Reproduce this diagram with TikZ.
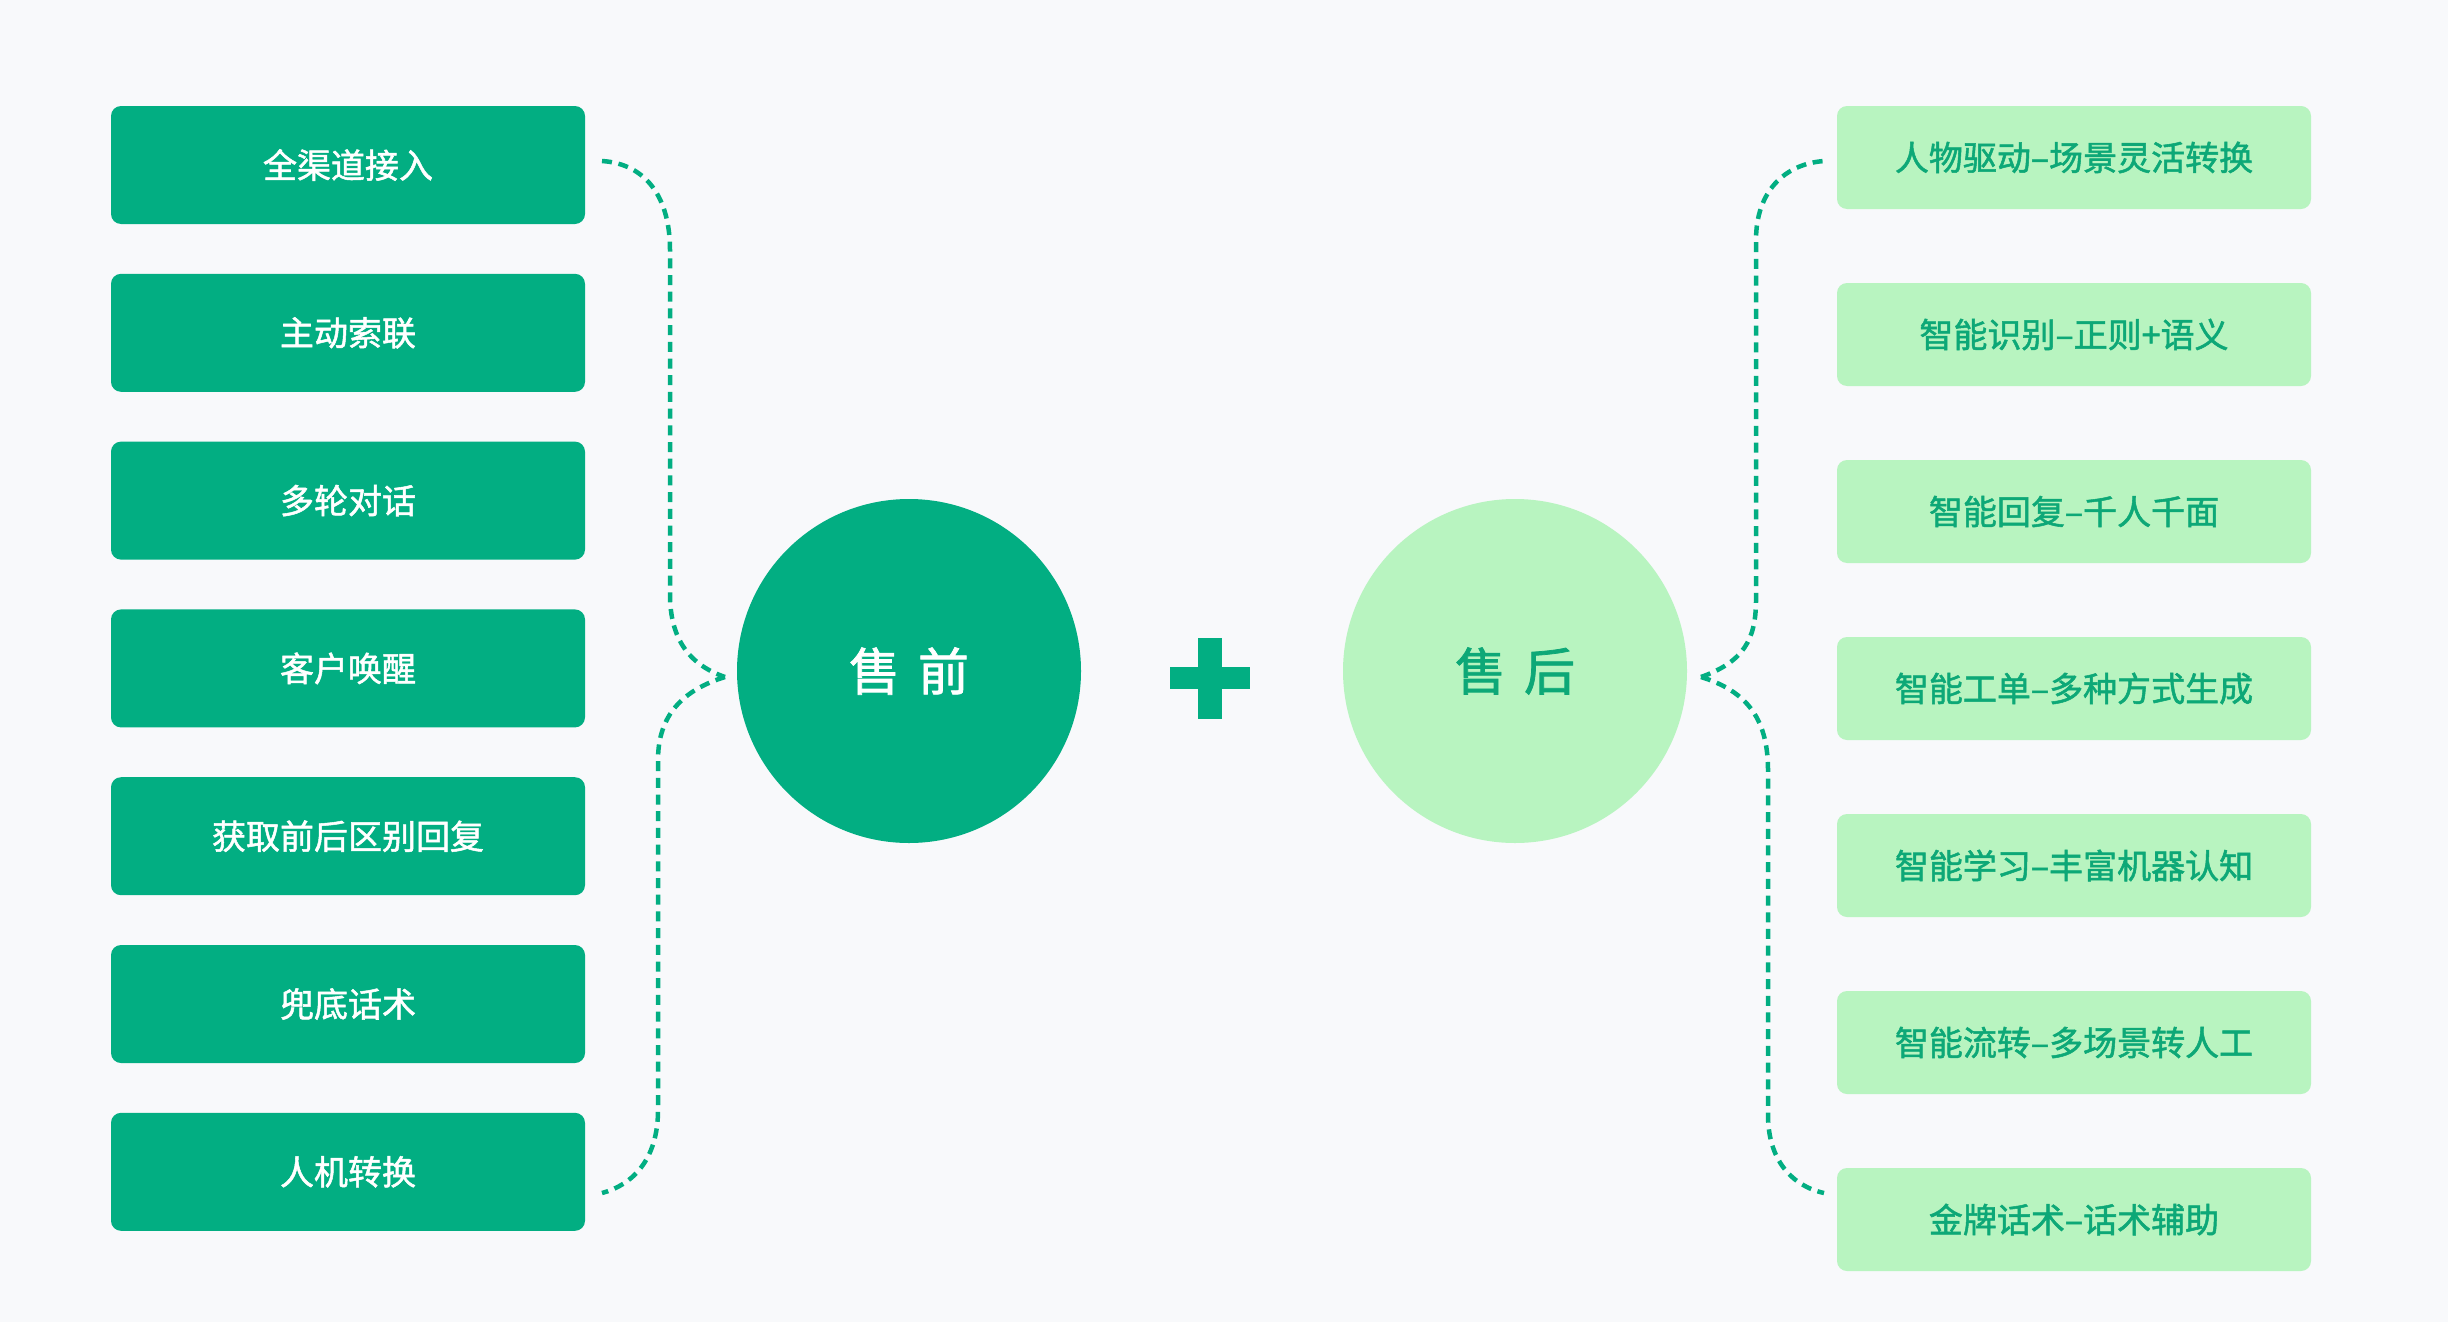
\documentclass[tikz,border=0pt]{standalone}
\usepackage{fontspec}
\setmainfont{Noto Sans CJK SC}
\newfontfamily\boldish{Noto Sans CJK SC}[FakeBold=1.5]
\definecolor{bg}{HTML}{F8F9FB}
\definecolor{dg}{HTML}{02AE82}
\definecolor{lg}{HTML}{B8F4C0}
\definecolor{tg}{HTML}{0DA877}
\begin{document}
\begin{tikzpicture}[x=1pt,y=-1pt,
  lbox/.style={fill=dg, rounded corners=10pt, minimum width=474pt, minimum height=118pt,
    text=white, font=\boldish\fontsize{34pt}{40pt}\selectfont, inner sep=0pt},
  rbox/.style={fill=lg, rounded corners=10pt, minimum width=474pt, minimum height=103pt,
    text=tg, font=\boldish\fontsize{34pt}{40pt}\selectfont, inner sep=0pt},
  hub/.style={circle, minimum size=344pt, inner sep=0pt, font=\boldish\fontsize{51pt}{60pt}\selectfont},
  conn/.style={draw=dg, line width=4.5pt, dash pattern=on 10pt off 6.7pt},
]
\fill[bg] (0,0) rectangle (2448,1322);
\useasboundingbox (0,0) rectangle (2448,1322);

% left boxes
\node[lbox] (l1) at (348,165.0) {全渠道接入};
\node[lbox] (l2) at (348,332.8) {主动索联};
\node[lbox] (l3) at (348,500.6) {多轮对话};
\node[lbox] (l4) at (348,668.4) {客户唤醒};
\node[lbox] (l5) at (348,836.2) {获取前后区别回复};
\node[lbox] (l6) at (348,1004.0) {兜底话术};
\node[lbox] (l7) at (348,1171.8) {人机转换};

% right boxes
\node[rbox] (r1) at (2074,157.5) {人物驱动–场景灵活转换};
\node[rbox] (r2) at (2074,334.5) {智能识别–正则+语义};
\node[rbox] (r3) at (2074,511.5) {智能回复–千人千面};
\node[rbox] (r4) at (2074,688.5) {智能工单–多种方式生成};
\node[rbox] (r5) at (2074,865.5) {智能学习–丰富机器认知};
\node[rbox] (r6) at (2074,1042.5) {智能流转–多场景转人工};
\node[rbox] (r7) at (2074,1219.5) {金牌话术–话术辅助};

% hubs
\node[hub, fill=dg, text=white] (pre) at (909,671) {售\hspace{18pt}前};
\node[hub, fill=lg, text=tg] (post) at (1515,671) {售\hspace{18pt}后};

% plus sign
\fill[dg] (1198,638) rectangle (1222,719);
\fill[dg] (1170,667) rectangle (1250,689);

% connector end points
\coordinate (la) at (602,161);
\coordinate (lb) at (602,1193);
\coordinate (lj) at (725,677);
\coordinate (ra) at (1824,161);
\coordinate (rb) at (1824,1193);
\coordinate (rj) at (1701,677);

% left brace
\draw[conn] (la) .. controls (648,164) and (670,200) .. (670,250) -- (670,594)
  .. controls (670,640) and (690,665) .. (lj);
\draw[conn] (lj) .. controls (683,690) and (658,715) .. (658,760) -- (658,1110)
  .. controls (658,1160) and (632,1185) .. (lb);

% right brace
\draw[conn] (rj) .. controls (1743,662) and (1756,640) .. (1756,600) -- (1756,240)
  .. controls (1756,192) and (1784,164) .. (ra);
\draw[conn] (rj) .. controls (1743,690) and (1768,715) .. (1768,770) -- (1768,1115)
  .. controls (1768,1160) and (1792,1186) .. (rb);
\end{tikzpicture}
\end{document}
